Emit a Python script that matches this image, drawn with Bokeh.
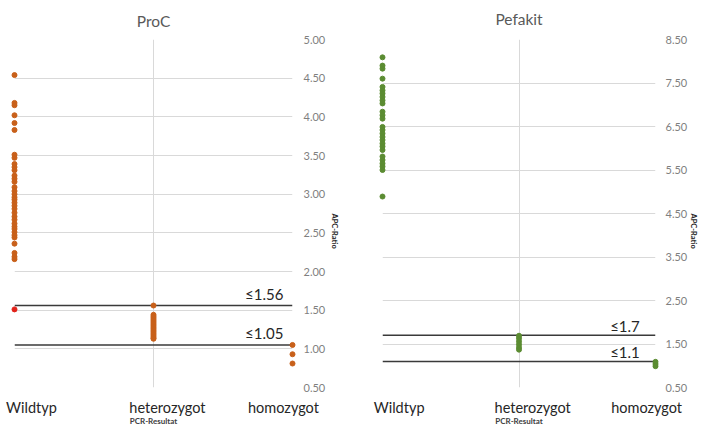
import math
from bokeh.plotting import figure
from bokeh.models import FixedTicker, NumeralTickFormatter, Span, Label, Range1d
from bokeh.layouts import row
from bokeh.embed import file_html
from bokeh.resources import INLINE

# ---------------- data ----------------
categories = ["Wildtyp", "heterozygot", "homozygot"]

proc_wildtyp = [4.54, 4.18, 4.15, 4.02, 3.92, 3.83,
                3.51, 3.47, 3.39, 3.35, 3.31, 3.24, 3.20, 3.16, 3.09, 3.04,
                3.00, 2.96, 2.93, 2.89, 2.85, 2.81, 2.76, 2.71, 2.67, 2.62,
                2.58, 2.55, 2.51, 2.47, 2.44, 2.36, 2.24, 2.19, 2.16]
proc_wildtyp_flagged = [1.51]
proc_hetero = [1.56, 1.44, 1.42, 1.40, 1.38, 1.36, 1.34, 1.32, 1.30, 1.28,
               1.26, 1.24, 1.22, 1.20, 1.18, 1.16, 1.14, 1.13]
proc_homo = [1.05, 0.93, 0.81]
proc_cutoffs = [1.56, 1.05]
proc_cutoff_labels = ["≤1.56", "≤1.05"]
proc_yticks = [0.5, 1.0, 1.5, 2.0, 2.5, 3.0, 3.5, 4.0, 4.5, 5.0]

pefa_wildtyp = [8.09, 7.90, 7.83, 7.60, 7.41, 7.33, 7.26, 7.18, 7.10, 7.03,
                6.84, 6.76, 6.68, 6.49, 6.42, 6.34, 6.26, 6.19, 6.11, 6.04,
                5.96, 5.81, 5.73, 5.65, 5.58, 5.50, 4.89]
pefa_hetero = [1.69, 1.63, 1.56, 1.49, 1.42, 1.37]
pefa_homo = [1.09, 1.04, 0.99]
pefa_cutoffs = [1.7, 1.1]
pefa_cutoff_labels = ["≤1.7", "≤1.1"]
pefa_yticks = [0.5, 1.5, 2.5, 3.5, 4.5, 5.5, 6.5, 7.5, 8.5]

# ---------------- style ----------------
FONT = "Lato"
cat_label_pos = [0.122, 1.10, 1.935]
GRID = "#d9d9d9"


def make_panel(title, title_offset, title_standoff, series, color, yticks, cutoffs,
               cutoff_labels, cutoff_label_x, cutoff_label_dy, width, border_left,
               border_right, border_top, tick_standoff, ylabel_standoff, flagged=None):
    p = figure(width=width, height=428, output_backend="svg", toolbar_location=None,
               x_range=Range1d(0, 2), y_range=Range1d(yticks[0], yticks[-1]),
               y_axis_location="right", title=title,
               min_border_left=border_left, min_border_right=border_right,
               min_border_top=border_top, min_border_bottom=40)
    p.outline_line_color = None
    p.background_fill_color = "white"
    p.border_fill_color = "white"

    # title
    p.title.align = "center"
    p.title.vertical_align = "top"
    p.title.offset = title_offset
    p.title.standoff = title_standoff
    p.title.text_font = FONT
    p.title.text_font_size = "15.5px"
    p.title.text_font_style = "normal"
    p.title.text_color = "#595959"

    # grids
    p.xgrid.ticker = FixedTicker(ticks=[0, 1, 2])
    p.xgrid.grid_line_color = GRID
    p.ygrid.grid_line_color = GRID

    # y axis (right)
    yax = p.yaxis[0]
    yax.ticker = FixedTicker(ticks=yticks)
    yax.formatter = NumeralTickFormatter(format="0.00")
    yax.axis_line_color = None
    yax.major_tick_line_color = None
    yax.minor_tick_line_color = None
    yax.major_tick_out = 0
    yax.major_tick_in = 0
    yax.major_label_standoff = tick_standoff
    yax.major_label_text_font = FONT
    yax.major_label_text_font_size = "11px"
    yax.major_label_text_color = "#7f7f7f"
    yax.axis_label = "APC-Ratio"
    yax.axis_label_standoff = ylabel_standoff
    yax.axis_label_text_font = FONT
    yax.axis_label_text_font_size = "7.5px"
    yax.axis_label_text_font_style = "bold"
    yax.axis_label_text_color = "#262626"
    if "axis_label_orientation" in yax.properties():
        yax.axis_label_orientation = -math.pi / 2

    # x axis (categories)
    xax = p.xaxis[0]
    xax.ticker = FixedTicker(ticks=cat_label_pos)
    xax.major_label_overrides = {pos: name for pos, name in zip(cat_label_pos, categories)}
    xax.axis_line_color = None
    xax.major_tick_line_color = None
    xax.minor_tick_line_color = None
    xax.major_tick_out = 0
    xax.major_tick_in = 0
    xax.major_label_standoff = 11
    xax.major_label_text_font = FONT
    xax.major_label_text_font_size = "14.5px"
    xax.major_label_text_color = "#262626"
    xax.axis_label = "PCR-Resultat"
    xax.axis_label_standoff = -3
    xax.axis_label_text_font = FONT
    xax.axis_label_text_font_size = "8px"
    xax.axis_label_text_font_style = "bold"
    xax.axis_label_text_color = "#404040"

    # cut-off lines
    for c, lab in zip(cutoffs, cutoff_labels):
        p.add_layout(Span(location=c, dimension="width", line_color="#3a3a3a",
                          line_width=1.5))
        p.add_layout(Label(x=cutoff_label_x, y=c, text=lab, text_align="right",
                           text_baseline="alphabetic", y_offset=cutoff_label_dy,
                           text_font=FONT, text_font_size="15px",
                           text_color="#262626"))

    # points
    for i, vals in enumerate(series):
        p.scatter([i] * len(vals), vals, size=5, color=color, level="overlay")
    if flagged:
        p.scatter([0] * len(flagged), flagged, size=5, color="#e2231a", level="overlay")
    return p


p1 = make_panel("ProC", 0, 16, [proc_wildtyp, proc_hetero, proc_homo], "#c8601a",
                proc_yticks, proc_cutoffs, proc_cutoff_labels, 1.934, 12,
                width=352, border_left=14, border_right=60, border_top=39,
                tick_standoff=11, ylabel_standoff=6,
                flagged=proc_wildtyp_flagged)
p2 = make_panel("Pefakit", 11, 19, [pefa_wildtyp, pefa_hetero, pefa_homo], "#5b8c32",
                pefa_yticks, pefa_cutoffs, pefa_cutoff_labels, 1.885, 9,
                width=353, border_left=30, border_right=45, border_top=37,
                tick_standoff=10, ylabel_standoff=3)

layout = row(p1, p2)
open("out.html", "w").write(file_html(layout, INLINE))
